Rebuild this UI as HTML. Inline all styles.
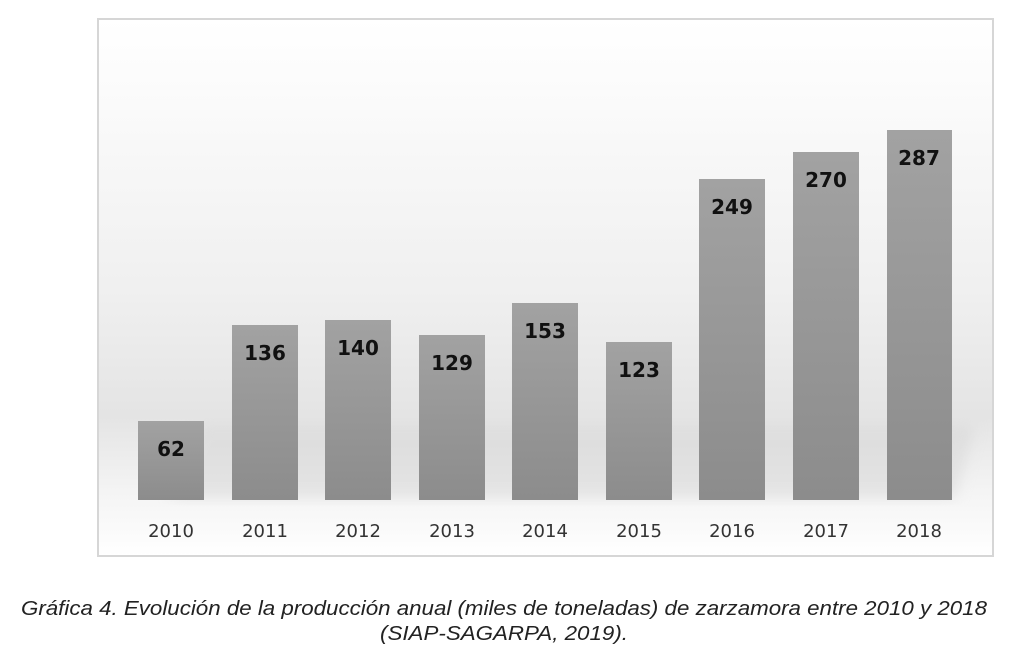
<!DOCTYPE html>
<html><head><meta charset="utf-8"><style>
html,body{margin:0;padding:0;background:#fff;}
svg{display:block;}
</style></head><body>
<svg width="1024" height="665" viewBox="0 0 1024 665" xmlns="http://www.w3.org/2000/svg">
<defs>
<linearGradient id="bg" x1="0" y1="0" x2="0" y2="1">
<stop offset="0" stop-color="#ffffff"/>
<stop offset="0.5" stop-color="#f0f0f0"/>
<stop offset="0.74" stop-color="#e4e4e4"/>
<stop offset="0.88" stop-color="#f4f4f4"/>
<stop offset="1" stop-color="#ffffff"/>
</linearGradient>
<linearGradient id="bar" x1="0" y1="0" x2="0" y2="1">
<stop offset="0" stop-color="#a2a2a2"/>
<stop offset="1" stop-color="#8c8c8c"/>
</linearGradient>
<filter id="blur"><feGaussianBlur stdDeviation="7"/></filter>
</defs>
<rect x="98" y="19" width="895" height="537" fill="url(#bg)" stroke="#d6d6d6" stroke-width="2"/>
<polygon points="170,498 955,498 975,425 200,425" fill="#d4d4d4" filter="url(#blur)" opacity="0.5"/>
<g fill="url(#bar)">
<rect x="138" y="421" width="66" height="79"/>
<rect x="232" y="325" width="66" height="175"/>
<rect x="325" y="320" width="66" height="180"/>
<rect x="419" y="335" width="66" height="165"/>
<rect x="512" y="303" width="66" height="197"/>
<rect x="606" y="342" width="66" height="158"/>
<rect x="699" y="179" width="66" height="321"/>
<rect x="793" y="152" width="66" height="348"/>
<rect x="887" y="130" width="65" height="370"/>
</g>
<g font-family="DejaVu Sans, Liberation Sans, sans-serif" font-weight="bold" font-size="20" fill="#111" text-anchor="middle">
<text x="171" y="456">62</text>
<text x="265" y="360">136</text>
<text x="358" y="355">140</text>
<text x="452" y="370">129</text>
<text x="545" y="338">153</text>
<text x="639" y="377">123</text>
<text x="732" y="214">249</text>
<text x="826" y="187">270</text>
<text x="919" y="165">287</text>
</g>
<g font-family="DejaVu Sans, Liberation Sans, sans-serif" font-size="18" fill="#333" text-anchor="middle">
<text x="171" y="537">2010</text>
<text x="265" y="537">2011</text>
<text x="358" y="537">2012</text>
<text x="452" y="537">2013</text>
<text x="545" y="537">2014</text>
<text x="639" y="537">2015</text>
<text x="732" y="537">2016</text>
<text x="826" y="537">2017</text>
<text x="919" y="537">2018</text>
</g>
<g font-family="Liberation Sans, sans-serif" font-style="italic" font-size="20" fill="#222" text-anchor="middle">
<text x="504" y="615" textLength="966" lengthAdjust="spacingAndGlyphs">Gráfica 4. Evolución de la producción anual (miles de toneladas) de zarzamora entre 2010 y 2018</text>
<text x="504" y="640" textLength="248" lengthAdjust="spacingAndGlyphs">(SIAP-SAGARPA, 2019).</text>
</g>
</svg>
</body></html>
